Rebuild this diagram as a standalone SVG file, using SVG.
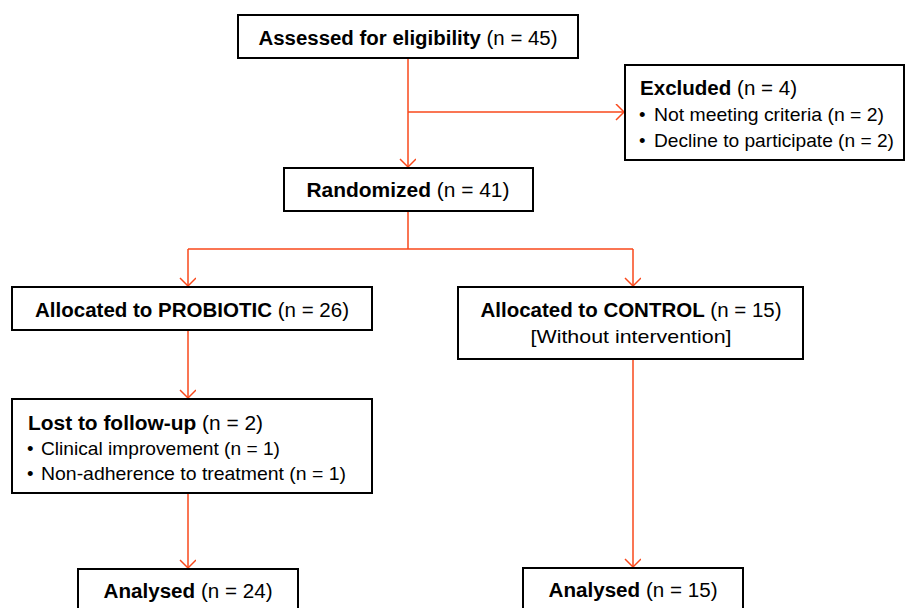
<svg xmlns="http://www.w3.org/2000/svg" width="905" height="608" viewBox="0 0 905 608">
<defs>
<marker id="arr" markerWidth="20" markerHeight="20" refX="16" refY="8" orient="auto" markerUnits="userSpaceOnUse">
<path d="M8,0 L16,8 L8,16" fill="none" stroke="#F9481B" stroke-width="1.5"/>
</marker>
<style>
.box{fill:#fff;stroke:#000;stroke-width:2}
.t{font-family:"Liberation Sans",Arial,sans-serif;font-size:20px;fill:#000}
.s{font-family:"Liberation Sans",Arial,sans-serif;font-size:18.5px;fill:#000}
.b{font-weight:bold}
.c{text-anchor:middle}
.ln{fill:none;stroke:#F9481B;stroke-width:1.5}
</style>
</defs>
<rect width="905" height="608" fill="#fff"/>
<g id="connectors">
<path class="ln" d="M408,58 V167" marker-end="url(#arr)"/>
<path class="ln" d="M408,112 H624" marker-end="url(#arr)"/>
<path class="ln" d="M408,211 V249 M188,249 H633"/>
<path class="ln" d="M188,249 V286" marker-end="url(#arr)"/>
<path class="ln" d="M633,249 V286" marker-end="url(#arr)"/>
<path class="ln" d="M188,330 V398" marker-end="url(#arr)"/>
<path class="ln" d="M188,493 V568" marker-end="url(#arr)"/>
<path class="ln" d="M633,359 V567" marker-end="url(#arr)"/>
</g>
<g id="assessed">
<rect class="box" x="238" y="15" width="340" height="43"/>
<text class="t c" x="408" y="45" textLength="299" lengthAdjust="spacingAndGlyphs"><tspan class="b">Assessed for eligibility</tspan> (n = 45)</text>
</g>
<g id="excluded">
<rect class="box" x="625" y="65" width="279" height="95"/>
<text class="t" x="640" y="95" textLength="157" lengthAdjust="spacingAndGlyphs"><tspan class="b">Excluded</tspan> (n = 4)</text>
<text class="s" x="639" y="121">•</text>
<text class="s" x="654" y="121" textLength="230" lengthAdjust="spacingAndGlyphs">Not meeting criteria (n = 2)</text>
<text class="s" x="639" y="147">•</text>
<text class="s" x="654" y="147" textLength="240" lengthAdjust="spacingAndGlyphs">Decline to participate (n = 2)</text>
</g>
<g id="randomized">
<rect class="box" x="284" y="168" width="249" height="43"/>
<text class="t c" x="408" y="197" textLength="203" lengthAdjust="spacingAndGlyphs"><tspan class="b">Randomized</tspan> (n = 41)</text>
</g>
<g id="probiotic">
<rect class="box" x="12" y="287" width="360" height="43"/>
<text class="t c" x="192" y="317" textLength="314" lengthAdjust="spacingAndGlyphs"><tspan class="b">Allocated to PROBIOTIC</tspan> (n = 26)</text>
</g>
<g id="control">
<rect class="box" x="458" y="287" width="345" height="72"/>
<text class="t c" x="631" y="317" textLength="301" lengthAdjust="spacingAndGlyphs"><tspan class="b">Allocated to CONTROL</tspan> (n = 15)</text>
<text class="s c" x="631" y="343" textLength="201" lengthAdjust="spacingAndGlyphs">[Without intervention]</text>
</g>
<g id="lost">
<rect class="box" x="12" y="399" width="360" height="94"/>
<text class="t" x="28" y="430" textLength="235" lengthAdjust="spacingAndGlyphs"><tspan class="b">Lost to follow-up</tspan> (n = 2)</text>
<text class="s" x="27" y="455">•</text>
<text class="s" x="41" y="455" textLength="239" lengthAdjust="spacingAndGlyphs">Clinical improvement (n = 1)</text>
<text class="s" x="27" y="480">•</text>
<text class="s" x="41" y="480" textLength="305" lengthAdjust="spacingAndGlyphs">Non-adherence to treatment (n = 1)</text>
</g>
<g id="analysed-probiotic">
<rect class="box" x="78" y="569" width="220" height="45"/>
<text class="t c" x="188" y="598" textLength="169" lengthAdjust="spacingAndGlyphs"><tspan class="b">Analysed</tspan> (n = 24)</text>
</g>
<g id="analysed-control">
<rect class="box" x="523" y="568" width="220" height="46"/>
<text class="t c" x="633" y="597" textLength="169" lengthAdjust="spacingAndGlyphs"><tspan class="b">Analysed</tspan> (n = 15)</text>
</g>
</svg>
